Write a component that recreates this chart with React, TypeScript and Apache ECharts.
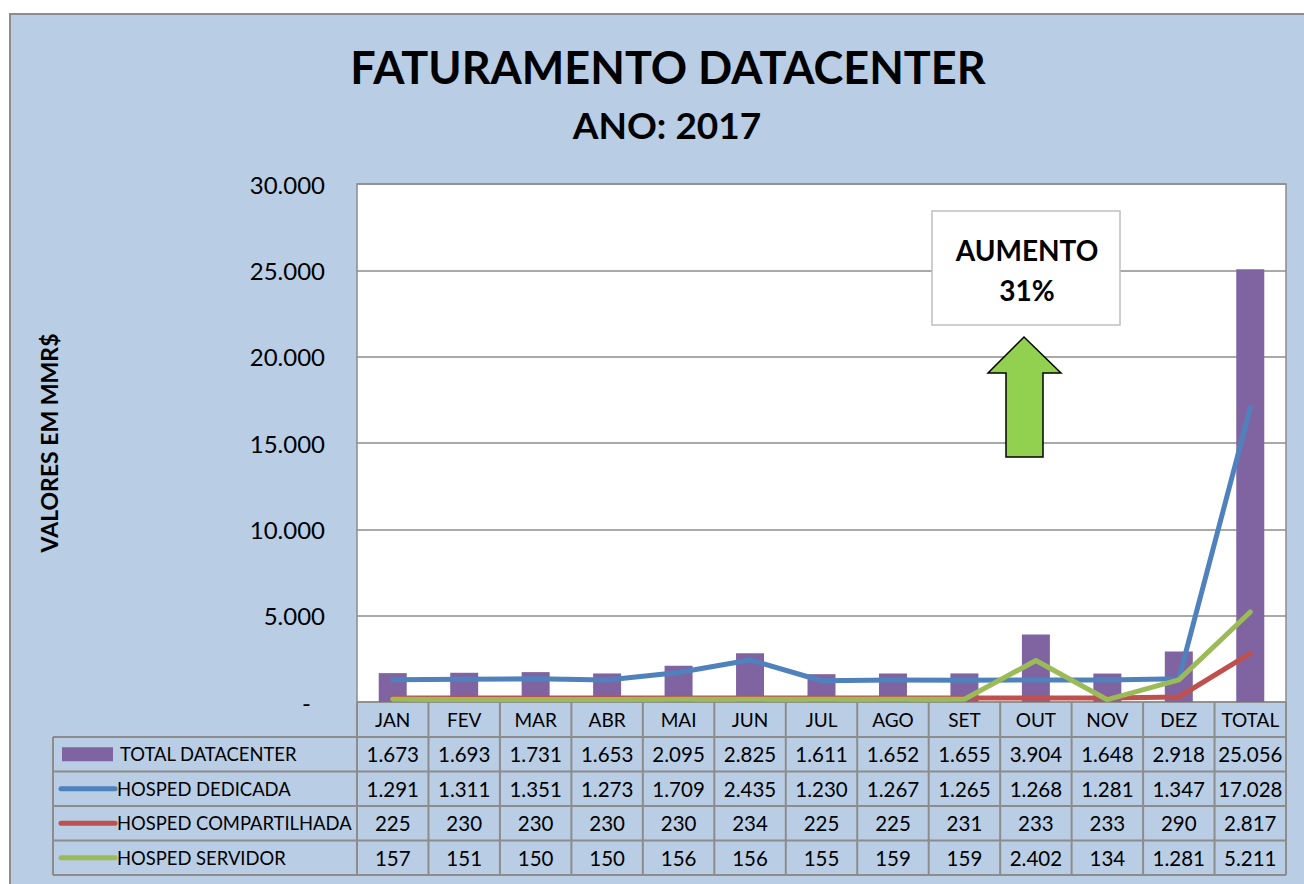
import React, { useEffect, useRef } from "react";
import * as echarts from "echarts";

const months = ["JAN", "FEV", "MAR", "ABR", "MAI", "JUN", "JUL", "AGO", "SET", "OUT", "NOV", "DEZ", "TOTAL"];
const totalDatacenter = [1673, 1693, 1731, 1653, 2095, 2825, 1611, 1652, 1655, 3904, 1648, 2918, 25056];
const hospedDedicada = [1291, 1311, 1351, 1273, 1709, 2435, 1230, 1267, 1265, 1268, 1281, 1347, 17028];
const hospedCompartilhada = [225, 230, 230, 230, 230, 234, 225, 225, 231, 233, 233, 290, 2817];
const hospedServidor = [157, 151, 150, 150, 156, 156, 155, 159, 159, 2402, 134, 1281, 5211];
const seriesNames = ["TOTAL DATACENTER", "HOSPED DEDICADA", "HOSPED COMPARTILHADA", "HOSPED SERVIDOR"];
const yTicks = [0, 5000, 10000, 15000, 20000, 25000, 30000];

const COLORS = ["#8064A2", "#4F81BD", "#C0504D", "#9BBB59"];
const FONT = "Lato";

const fmt = (v: number) => String(v).replace(/\B(?=(\d{3})+(?!\d))/g, ".");

export default function App() {
  const ref = useRef<HTMLDivElement>(null);
  useEffect(() => {
    document.body.style.margin = "0";
    const chart = echarts.init(ref.current!, null, { renderer: "svg" });
    const seriesData = [totalDatacenter, hospedDedicada, hospedCompartilhada, hospedServidor];
    chart.setOption({
      animation: false,
      textStyle: { fontFamily: FONT },
      title: [
        {
          text: "FATURAMENTO DATACENTER",
          left: 663,
          textAlign: "center",
          top: 39,
          textStyle: { fontFamily: FONT, fontWeight: "bold", fontSize: 45, color: "#000" },
        },
        {
          text: "ANO: 2017",
          left: 662,
          textAlign: "center",
          top: 101,
          textStyle: { fontFamily: FONT, fontWeight: "bold", fontSize: 37, color: "#000" },
        },
      ],
      grid: {
        left: 357,
        right: 18,
        top: 184,
        bottom: 182,
        show: true,
        backgroundColor: "#ffffff",
        borderColor: "#8c8c8c",
        borderWidth: 1.5,
      },
      xAxis: {
        type: "category",
        data: months,
        axisLine: { show: false },
        axisTick: { show: false },
        axisLabel: { color: "#000", fontSize: 19, fontFamily: FONT, margin: 17, verticalAlign: "middle", interval: 0 },
      },
      yAxis: {
        type: "value",
        min: yTicks[0],
        max: yTicks[yTicks.length - 1],
        interval: yTicks[1] - yTicks[0],
        name: "VALORES EM MMR$",
        nameLocation: "middle",
        nameGap: 297,
        nameTextStyle: { fontFamily: FONT, fontWeight: "bold", fontSize: 23, color: "#000" },
        axisLine: { show: false },
        axisTick: { show: false },
        splitLine: { lineStyle: { color: "#8c8c8c", width: 1.5 } },
        axisLabel: {
          color: "#000",
          fontSize: 24,
          fontFamily: FONT,
          margin: 32,
          formatter: (v: number) => (v === 0 ? "{d|-}" : fmt(v)),
          rich: { d: { fontSize: 24, fontFamily: FONT, color: "#000", padding: [0, 14, 0, 0] } },
        },
      },
      series: [
        {
          name: seriesNames[0],
          type: "bar",
          data: totalDatacenter,
          barWidth: 28,
          itemStyle: { color: COLORS[0] },
          z: 1,
        },
        ...[1, 2, 3].map((k) => ({
          name: seriesNames[k],
          type: "line",
          data: seriesData[k],
          symbol: "none",
          lineStyle: { color: COLORS[k], width: 5, cap: "round", join: "round" },
          z: 2 + k,
        })),
      ],
    });

    // Data table beneath the plot
    const xs = months.map((_, i) => chart.convertToPixel({ xAxisIndex: 0 }, i) as number);
    const cw = xs[1] - xs[0];
    const y0 = chart.convertToPixel({ yAxisIndex: 0 }, 0) as number;
    const headerH = 35;
    const rowH = 34.5;
    const tableLeft = 53;
    const colLeft = xs[0] - cw / 2;
    const tableRight = xs[xs.length - 1] + cw / 2;
    const rowTop = (r: number) => y0 + headerH + r * rowH;
    const tableBottom = rowTop(seriesData.length);
    const lineStyle = { stroke: "#8c8c8c", lineWidth: 2 };
    const els: any[] = [];
    for (let i = 0; i <= months.length; i++) {
      const x = colLeft + i * cw;
      els.push({ type: "line", shape: { x1: x, y1: y0, x2: x, y2: tableBottom }, style: lineStyle });
    }
    els.push({ type: "line", shape: { x1: tableLeft, y1: rowTop(0), x2: tableLeft, y2: tableBottom }, style: lineStyle });
    for (let r = 0; r <= seriesData.length; r++) {
      const y = rowTop(r);
      els.push({ type: "line", shape: { x1: tableLeft, y1: y, x2: tableRight, y2: y }, style: lineStyle });
    }
    seriesData.forEach((arr, r) => {
      const cy = rowTop(r) + rowH / 2;
      arr.forEach((v, i) => {
        els.push({
          type: "text",
          x: xs[i],
          y: cy,
          style: { text: fmt(v), font: `20.5px ${FONT}`, fill: "#000", textAlign: "center", textVerticalAlign: "middle" },
        });
      });
      if (r === 0) {
        els.push({ type: "rect", shape: { x: 62, y: cy - 7, width: 51, height: 14 }, style: { fill: COLORS[0] } });
        els.push({
          type: "text",
          x: 120,
          y: cy,
          style: { text: seriesNames[r], font: `18.4px ${FONT}`, fill: "#000", textVerticalAlign: "middle" },
        });
      } else {
        els.push({
          type: "line",
          shape: { x1: 61, y1: cy, x2: 115, y2: cy },
          style: { stroke: COLORS[r], lineWidth: 5, lineCap: "round" },
        });
        els.push({
          type: "text",
          x: 117,
          y: cy,
          style: { text: seriesNames[r], font: `18.4px ${FONT}`, fill: "#000", textVerticalAlign: "middle" },
        });
      }
    });

    // Annotation box and arrow
    els.push({
      type: "rect",
      shape: { x: 932, y: 211, width: 188, height: 114 },
      style: { fill: "#fff", stroke: "#bfbfbf", lineWidth: 1.5 },
      z: 10,
    });
    els.push({
      type: "text",
      x: 1027,
      y: 250,
      z: 11,
      style: { text: "AUMENTO", font: `bold 28px ${FONT}`, fill: "#000", textAlign: "center", textVerticalAlign: "middle" },
    });
    els.push({
      type: "text",
      x: 1027,
      y: 290,
      z: 11,
      style: { text: "31%", font: `bold 28px ${FONT}`, fill: "#000", textAlign: "center", textVerticalAlign: "middle" },
    });
    els.push({
      type: "polygon",
      z: 10,
      shape: {
        points: [
          [1024, 337],
          [1061, 373],
          [1043, 373],
          [1043, 457],
          [1006, 457],
          [1006, 373],
          [988, 373],
        ],
      },
      style: { fill: "#92D050", stroke: "#000", lineWidth: 1.5 },
    });

    chart.setOption({ graphic: els });
    return () => chart.dispose();
  }, []);

  return (
    <div style={{ position: "relative", width: 1304, height: 884, overflow: "hidden", background: "#fff" }}>
      <div
        style={{
          position: "absolute",
          left: 9,
          top: 13,
          width: 1320,
          height: 900,
          background: "#B9CDE5",
          border: "2px solid #8c8c8c",
        }}
      />
      <div ref={ref} style={{ position: "absolute", left: 0, top: 0, width: 1304, height: 884 }} />
    </div>
  );
}
